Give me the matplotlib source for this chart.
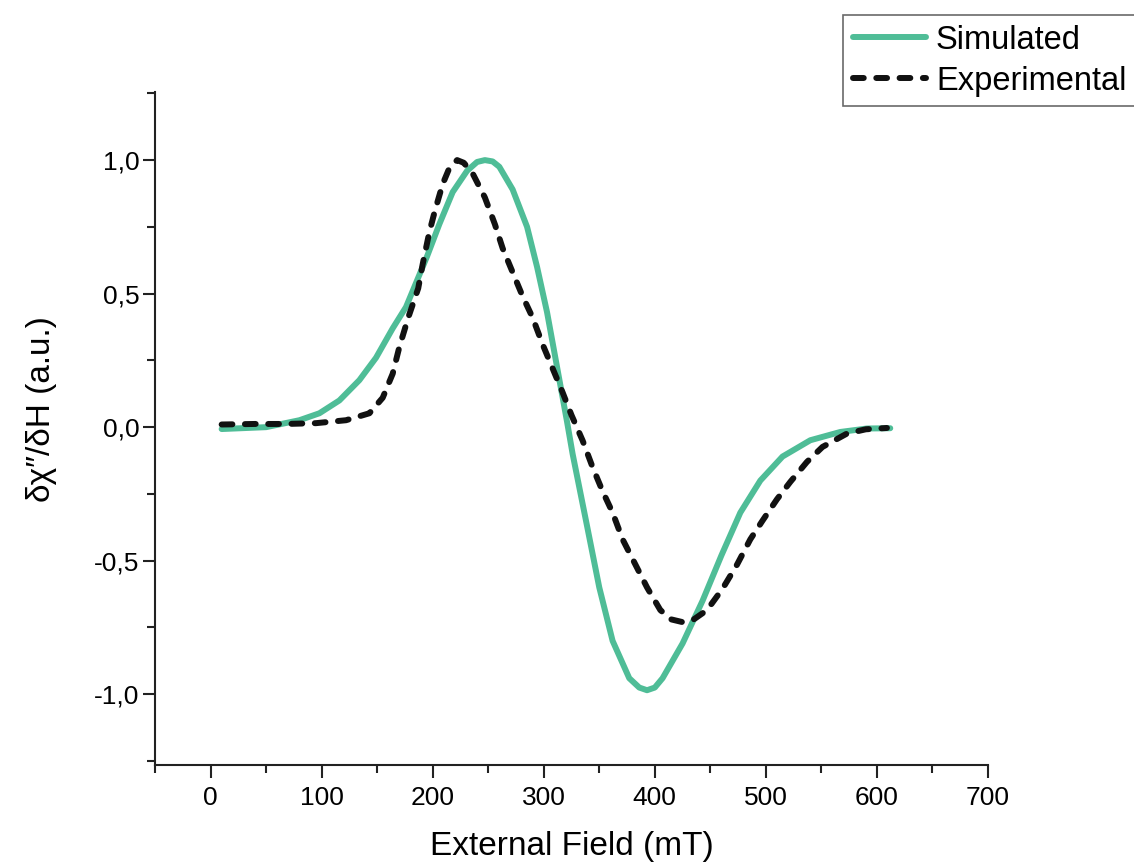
import numpy as np
import matplotlib
matplotlib.use('Agg')
from matplotlib import pyplot as plt
from matplotlib.ticker import MultipleLocator, FuncFormatter

plt.rcParams['font.family'] = ['Liberation Sans', 'DejaVu Sans']

# simulated curve
sim_x = [10, 50, 80, 98, 116, 134, 149, 164, 176, 182, 195, 206, 218, 231, 240,
         247, 254, 260, 272, 285, 294, 303, 312, 321, 326, 339, 350, 362, 377,
         386, 393, 400, 407, 425, 443, 460, 477, 495, 515, 540, 567, 591, 612]
sim_y = [-0.007, 0.0, 0.026, 0.052, 0.10, 0.176, 0.26, 0.37, 0.45, 0.51, 0.64,
         0.76, 0.88, 0.96, 0.993, 1.0, 0.995, 0.975, 0.89, 0.75, 0.60, 0.43, 0.225,
         0.02, -0.10, -0.37, -0.60, -0.80, -0.94, -0.975, -0.985, -0.975, -0.94,
         -0.81, -0.65, -0.48, -0.32, -0.20, -0.11, -0.049, -0.018, -0.005, -0.004]

# experimental curve
exp_x = [10, 40, 68, 95, 122, 143, 155, 164, 170, 178, 187, 191, 197, 202, 209,
         215, 222, 228, 236, 247, 256, 263, 272, 281, 290, 299, 308, 317, 325,
         335, 344, 353, 362, 371, 382, 393, 405, 415, 425, 435, 447, 461, 474,
         486, 497, 510, 522, 537, 551, 573, 590, 609]
exp_y = [0.01, 0.012, 0.012, 0.015, 0.026, 0.052, 0.11, 0.20, 0.30, 0.41, 0.52,
         0.61, 0.73, 0.81, 0.91, 0.97, 1.0, 0.99, 0.95, 0.86, 0.76, 0.67, 0.58,
         0.49, 0.41, 0.31, 0.22, 0.13, 0.045, -0.05, -0.15, -0.24, -0.32, -0.42,
         -0.51, -0.60, -0.685, -0.72, -0.73, -0.72, -0.685, -0.605, -0.515, -0.42,
         -0.35, -0.27, -0.205, -0.13, -0.074, -0.024, -0.008, -0.003]

green = '#4fbd97'

fig = plt.figure(figsize=(11.34, 8.66), dpi=100)
ax = fig.add_axes([155/1134, 1-765/866, (988-155)/1134, (765-92)/866])

ax.plot(sim_x, sim_y, color=green, lw=4.3, solid_capstyle='round',
        solid_joinstyle='round', label='Simulated')
ax.plot(exp_x, exp_y, color='#111111', lw=4.3, dashes=(1.8, 2.1),
        dash_capstyle='round', dash_joinstyle='round', label='Experimental')

ax.set_xlim(-50, 700)
ax.set_ylim(-1.265, 1.255)

for s in ['top', 'right']:
    ax.spines[s].set_visible(False)
for s in ['left', 'bottom']:
    ax.spines[s].set_linewidth(1.5)
    ax.spines[s].set_color('#222222')

ax.set_xticks(np.arange(0, 701, 100))
ax.xaxis.set_minor_locator(MultipleLocator(50))
ax.yaxis.set_major_locator(MultipleLocator(0.5))
ax.yaxis.set_minor_locator(MultipleLocator(0.25))
ax.yaxis.set_major_formatter(FuncFormatter(lambda v, p: f'{v:.1f}'.replace('.', ',')))

ax.tick_params(which='major', length=9, width=1.5, color='#222222', labelsize=19)
ax.tick_params(which='minor', length=5.5, width=1.5, color='#222222')
ax.tick_params(axis='x', which='major', pad=6)
ax.tick_params(axis='y', which='major', pad=2)

ax.set_xlabel('External Field (mT)', fontsize=24, labelpad=15)
ax.set_ylabel('δχ\u2033/δH (a.u.)', fontsize=24)
ax.yaxis.set_label_coords(-0.118, 0.529)

leg = fig.legend(loc='upper left', bbox_to_anchor=(843/1134, 1-15/866),
                 bbox_transform=fig.transFigure, fontsize=23.5, frameon=True,
                 fancybox=False, edgecolor='#444444', borderpad=0.3,
                 labelspacing=0.3, handlelength=2.25, handletextpad=0.3,
                 borderaxespad=0)
leg.get_frame().set_linewidth(1.2)

fig.savefig('out.png', dpi=100)
